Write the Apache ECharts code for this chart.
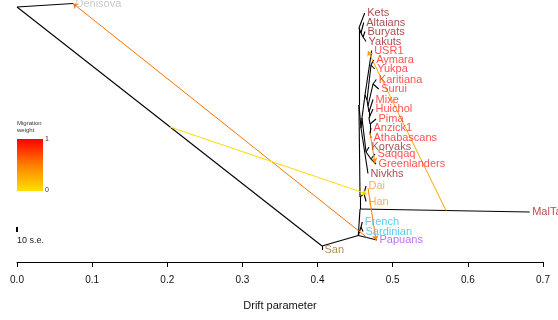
<!DOCTYPE html>
<html><head><meta charset="utf-8">
<script src="https://cdn.jsdelivr.net/npm/echarts@6/dist/echarts.min.js"></script>
<style>html,body{margin:0;padding:0;background:#fff}#c{width:558px;height:320px}</style>
</head><body><div id="c"></div>
<script>
// ---- data ----
const tipNames = ['Denisova','San','Papuans','Sardinian','French','MalTa','Han','Dai','Nivkhs','Greenlanders','Saqqaq','Koryaks','Athabascans','Anzick1','Pima','Huichol','Mixe','Surui','Karitiana','Yukpa','Aymara','USR1','Yakuts','Buryats','Altaians','Kets'];
const tipDrift = [0.0745,0.4059,0.4791,0.4605,0.4595,0.6823,0.4645,0.4645,0.4671,0.4778,0.4764,0.4684,0.4711,0.4711,0.4778,0.4738,0.4738,0.4814,0.4782,0.4760,0.4747,0.4720,0.4645,0.4631,0.4614,0.4627];
const tipPos = [3.5,250,240,231.5,222,212,201.5,186,173.5,164,154,147,138,128,119,109,99.5,89,79.5,69,60,50.5,41.5,31.5,22.5,13];
const tipGroup = ['archaic','africa','oceania','europe','europe','siberia','eastasia','eastasia','siberia','america','america','siberia','america','america','america','america','america','america','america','america','america','america','siberia','siberia','siberia','siberia'];

const nodeNames = ['root','nSan','nOoa','nFS','nE','nEA','nDH','nNE','nK','nAl','nBY','nS1','nS2','nKor','nSG','nAm','nA1','nAY','nA2','nKS','nA3','nA4','nA5','nA6'];
const nodeDrift = [0,0.4059,0.4542,0.4578,0.4565,0.4565,0.4618,0.4551,0.4551,0.4578,0.4605,0.4578,0.4591,0.4645,0.4711,0.4631,0.4658,0.4711,0.4671,0.4738,0.4684,0.4684,0.4698,0.4698];
const nodePos = [7,246,235.5,227,209,197,193.5,105,28,33,37,128,118,152,159,95,100,65,106,84,112,118,124,133];

const edgeParent = ['root','root','nSan','nSan','nOoa','nOoa','nFS','nFS','nOoa','nE','nE','nEA','nDH','nDH','nEA','nNE','nK','nK','nAl','nAl','nBY','nBY','nNE','nS1','nS1','nS2','nKor','nKor','nSG','nSG','nS2','nAm','nAm','nA1','nAY','nAY','nA1','nA2','nKS','nKS','nA2','nA3','nA3','nA4','nA4','nA5','nA5','nA6','nA6'];
const edgeChild  = ['Denisova','nSan','San','nOoa','Papuans','nFS','French','Sardinian','nE','MalTa','nEA','nDH','Dai','Han','nNE','nK','Kets','nAl','Altaians','nBY','Buryats','Yakuts','nS1','Nivkhs','nS2','nKor','Koryaks','nSG','Saqqaq','Greenlanders','nAm','USR1','nA1','nAY','Aymara','Yukpa','nA2','nKS','Karitiana','Surui','nA3','Mixe','nA4','Huichol','nA5','Pima','nA6','Anzick1','Athabascans'];

const migFromDrift = [0.4658,0.2036,0.5709,0.4698,0.4671];
const migFromPos   = [237.5,127,210.5,133,188];
const migToDrift   = [0.0745,0.4658,0.4671,0.4764,0.4778];
const migToPos     = [3.5,194,51,163,240.5];
const migWeight    = [0.55,0.03,0.3,0.45,0.5];

const xTicks = [0,0.1,0.2,0.3,0.4,0.5,0.6,0.7];

// ---- styles ----
const groupColor = {archaic:'#BDBDBD',africa:'#957826',oceania:'#AE4FF0',europe:'#2EC2F2',siberia:'#931E26',eastasia:'#F29E2C',america:'#FF2424'};
const darkSib = {Koryaks:'#872C2C',Nivkhs:'#86262A',MalTa:'#A52226'};

const coord = {};
tipNames.forEach((n,i)=>coord[n]=[tipDrift[i],tipPos[i]]);
nodeNames.forEach((n,i)=>coord[n]=[nodeDrift[i],nodePos[i]]);

function wColor(w){
  const a=[255,224,0], m=[255,127,0], b=[255,0,0];
  let c;
  if(w<=0.5){const t=w/0.5;c=a.map((v,k)=>Math.round(v+(m[k]-v)*t));}
  else {const t=(w-0.5)/0.5;c=m.map((v,k)=>Math.round(v+(b[k]-v)*t));}
  return 'rgb('+c.join(',')+')';
}

const treeData = edgeParent.map((p,i)=>({coords:[coord[p],coord[edgeChild[i]]]}));
const migData = migWeight.map((w,i)=>({coords:[[migFromDrift[i],migFromPos[i]],[migToDrift[i],migToPos[i]]],lineStyle:{color:wColor(w)}}));
const labelData = tipNames.map((n,i)=>({value:[tipDrift[i],tipPos[i]],name:n,label:{color:darkSib[n]||groupColor[tipGroup[i]]}}));

const chart = echarts.init(document.getElementById('c'),null,{renderer:'canvas'});
const FONT='"Liberation Sans", Arial, Helvetica, sans-serif';
chart.setOption({
  animation:false,
  backgroundColor:'#fff',
  grid:{left:17,right:15,top:0,bottom:58},
  xAxis:{type:'value',min:0,max:0.7,interval:0.1,
    splitLine:{show:false},
    axisLine:{show:true,onZero:false,lineStyle:{color:'#000',width:1}},
    axisTick:{show:true,length:5,lineStyle:{color:'#000'}},
    axisLabel:{margin:13,fontSize:10,color:'#111',fontFamily:FONT,formatter:v=>xTicks.indexOf(Math.round(v*10)/10)>=0?v.toFixed(1):''},
    name:'Drift parameter',nameLocation:'middle',nameGap:38,
    nameTextStyle:{fontSize:11,color:'#111',fontFamily:FONT}},
  yAxis:{type:'value',min:0,max:262,inverse:true,show:false},
  series:[
    {type:'lines',coordinateSystem:'cartesian2d',clip:false,silent:true,
     lineStyle:{color:'#000',width:1.1,opacity:1},data:treeData},
    {type:'lines',coordinateSystem:'cartesian2d',clip:false,silent:true,
     symbol:['none','arrow'],symbolSize:5,
     lineStyle:{width:1,opacity:1},data:migData},
    {type:'scatter',clip:false,silent:true,symbolSize:1,itemStyle:{color:'rgba(0,0,0,0)'},
     label:{show:true,position:'right',distance:2,fontSize:11,fontFamily:FONT,formatter:p=>p.name},
     data:labelData}
  ],
  graphic:[
    {type:'text',left:17,top:120,style:{text:'Migration\nweight',fontSize:6,lineHeight:7,fill:'#333',fontFamily:FONT}},
    {type:'rect',left:17,top:139,shape:{width:26,height:52},
     style:{fill:new echarts.graphic.LinearGradient(0,0,0,1,[{offset:0,color:'#FF0000'},{offset:0.5,color:'#FF7F00'},{offset:1,color:'#FFE000'}])}},
    {type:'text',left:45,top:136,style:{text:'1',fontSize:7,fill:'#333',fontFamily:FONT}},
    {type:'text',left:45,top:187,style:{text:'0',fontSize:7,fill:'#333',fontFamily:FONT}},
    {type:'rect',left:16,top:227,shape:{width:2,height:5},style:{fill:'#000'}},
    {type:'text',left:17,top:236,style:{text:'10 s.e.',fontSize:9,fill:'#222',fontFamily:FONT}}
  ]
});
</script></body></html>
